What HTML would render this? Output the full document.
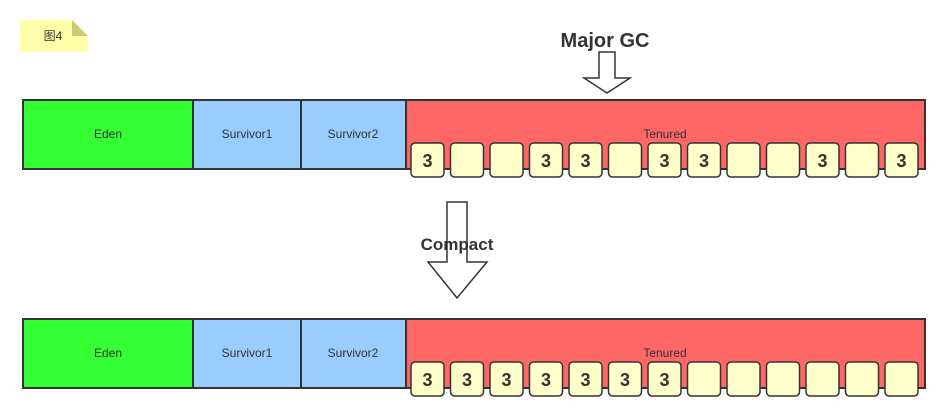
<!DOCTYPE html>
<html><head><style>
body{margin:0;background:#fff;width:946px;height:415px;overflow:hidden;font-family:"Liberation Sans","Noto Sans CJK SC",sans-serif}
</style></head><body>
<svg width="946" height="415" xmlns="http://www.w3.org/2000/svg" font-family="Liberation Sans, Noto Sans CJK SC, sans-serif">
<polygon points="20,20 72,20 88,36 88,52 20,52" fill="#ffffaa"/>
<polygon points="72,20 88,36 72,36" fill="#cccc77"/>
<text x="53" y="40" font-size="12" text-anchor="middle" fill="#333">图4</text>
<text x="605" y="47" font-size="20" font-weight="bold" text-anchor="middle" fill="#333">Major GC</text>
<polygon points="599,52 615,52 615,78 630,78 607,93 584,78 599,78" fill="#fff" stroke="#333" stroke-width="1.5"/>
<polygon points="447,202 467,202 467,262 487,262 457,298 428,262 447,262" fill="#fff" stroke="#333" stroke-width="1.5"/>
<text x="457" y="250" font-size="17" font-weight="bold" text-anchor="middle" fill="#333">Compact</text>
<g>
<rect x="23" y="100" width="170" height="69" fill="#33ff33" stroke="#333" stroke-width="2"/>
<rect x="193" y="100" width="108" height="69" fill="#99ccff" stroke="#333" stroke-width="2"/>
<rect x="301" y="100" width="105" height="69" fill="#99ccff" stroke="#333" stroke-width="2"/>
<rect x="406" y="100" width="519" height="69" fill="#ff6666" stroke="#333" stroke-width="2"/>
<text x="108" y="138" font-size="12" text-anchor="middle" fill="#333">Eden</text>
<text x="247" y="138" font-size="12" text-anchor="middle" fill="#333">Survivor1</text>
<text x="353" y="138" font-size="12" text-anchor="middle" fill="#333">Survivor2</text>
<text x="665" y="138" font-size="12" text-anchor="middle" fill="#333">Tenured</text>
</g>
<g transform="translate(0,219)">
<rect x="23" y="100" width="170" height="69" fill="#33ff33" stroke="#333" stroke-width="2"/>
<rect x="193" y="100" width="108" height="69" fill="#99ccff" stroke="#333" stroke-width="2"/>
<rect x="301" y="100" width="105" height="69" fill="#99ccff" stroke="#333" stroke-width="2"/>
<rect x="406" y="100" width="519" height="69" fill="#ff6666" stroke="#333" stroke-width="2"/>
<text x="108" y="138" font-size="12" text-anchor="middle" fill="#333">Eden</text>
<text x="247" y="138" font-size="12" text-anchor="middle" fill="#333">Survivor1</text>
<text x="353" y="138" font-size="12" text-anchor="middle" fill="#333">Survivor2</text>
<text x="665" y="138" font-size="12" text-anchor="middle" fill="#333">Tenured</text>
</g>
<g fill="#ffffcc" stroke="#333" stroke-width="1.5">
<rect x="411" y="143" width="33" height="34" rx="4"/><rect x="450.5" y="143" width="33" height="34" rx="4"/><rect x="490" y="143" width="33" height="34" rx="4"/><rect x="529.5" y="143" width="33" height="34" rx="4"/><rect x="569" y="143" width="33" height="34" rx="4"/><rect x="608.5" y="143" width="33" height="34" rx="4"/><rect x="648" y="143" width="33" height="34" rx="4"/><rect x="687.5" y="143" width="33" height="34" rx="4"/><rect x="727" y="143" width="33" height="34" rx="4"/><rect x="766.5" y="143" width="33" height="34" rx="4"/><rect x="806" y="143" width="33" height="34" rx="4"/><rect x="845.5" y="143" width="33" height="34" rx="4"/><rect x="885" y="143" width="33" height="34" rx="4"/>
<rect x="411" y="362" width="33" height="34" rx="4"/><rect x="450.5" y="362" width="33" height="34" rx="4"/><rect x="490" y="362" width="33" height="34" rx="4"/><rect x="529.5" y="362" width="33" height="34" rx="4"/><rect x="569" y="362" width="33" height="34" rx="4"/><rect x="608.5" y="362" width="33" height="34" rx="4"/><rect x="648" y="362" width="33" height="34" rx="4"/><rect x="687.5" y="362" width="33" height="34" rx="4"/><rect x="727" y="362" width="33" height="34" rx="4"/><rect x="766.5" y="362" width="33" height="34" rx="4"/><rect x="806" y="362" width="33" height="34" rx="4"/><rect x="845.5" y="362" width="33" height="34" rx="4"/><rect x="885" y="362" width="33" height="34" rx="4"/>
</g>
<g font-size="18" font-weight="bold" text-anchor="middle" fill="#333">
<text x="427.5" y="167">3</text><text x="546" y="167">3</text><text x="585.5" y="167">3</text><text x="664.5" y="167">3</text><text x="704" y="167">3</text><text x="822.5" y="167">3</text><text x="901.5" y="167">3</text>
<text x="427.5" y="386">3</text><text x="467" y="386">3</text><text x="506.5" y="386">3</text><text x="546" y="386">3</text><text x="585.5" y="386">3</text><text x="625" y="386">3</text><text x="664.5" y="386">3</text>
</g>
</svg>
</body></html>
